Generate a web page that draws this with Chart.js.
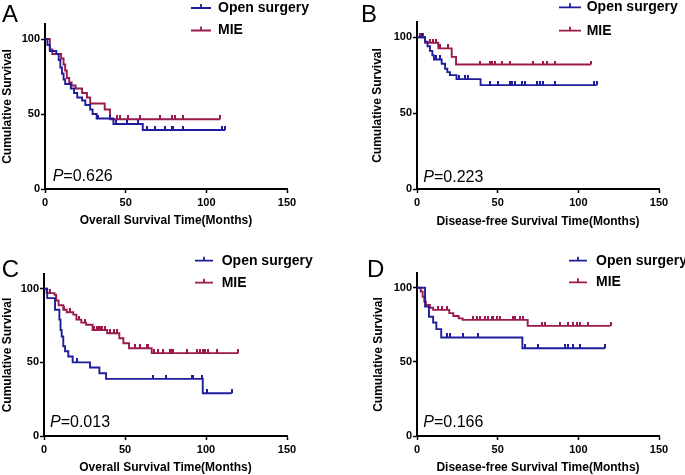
<!DOCTYPE html>
<html>
<head>
<meta charset="utf-8">
<script src="https://cdn.jsdelivr.net/npm/chart.js@4.4.1/dist/chart.umd.min.js"></script>
<style>
  html, body { margin: 0; padding: 0; background: #fff; }
  body { width: 685px; height: 475px; position: relative; overflow: hidden; }
  canvas { position: absolute; }
</style>
</head>
<body>
<canvas id="panelA" width="342" height="237" style="left:0;top:0"></canvas>
<canvas id="panelB" width="343" height="237" style="left:342px;top:0"></canvas>
<canvas id="panelC" width="342" height="237" style="left:0;top:238px"></canvas>
<canvas id="panelD" width="343" height="237" style="left:342px;top:238px"></canvas>
<script>
// ---- data (months, % surviving) ----
const groups = ["Open surgery", "MIE"];
const xTicks = [0, 50, 100, 150];
const yTicks = [0, 50, 100];

// A: overall survival
const aOpenT = [0, 1.5, 3, 7, 8.5, 9.5, 10.5, 11.5, 12.5, 16, 18, 20, 23, 25, 28, 29.5, 32, 42.4, 60.6];
const aOpenS = [100, 96, 92, 90, 86, 81, 77, 73, 70, 67, 64, 61, 59, 56, 53, 50, 47, 43.3, 39.3];
const aOpenC = [33, 40.3, 44, 50.6, 57.9, 63, 68, 74.4, 78.5, 79.6, 85.8, 109.5, 111.6];
const aMieT = [0, 3, 4.5, 10, 11.5, 12.5, 13.5, 15, 16.5, 19, 23, 26, 28, 37, 40.3];
const aMieS = [100, 93, 90, 87, 83, 79, 74, 71, 69, 67, 64, 61, 57, 53, 46.5];
const aMieC = [44.4, 46.5, 51.7, 58.9, 71.3, 78.5, 80.6, 85.8, 108.5];

// B: disease-free survival
const bOpenT = [0, 5, 6.5, 8, 9.5, 10.5, 15.3, 17.4, 18.8, 20.4, 24.5, 39.4];
const bOpenS = [100, 97, 94, 91, 88, 85.3, 82.5, 79.2, 77, 75, 72.4, 68.4];
const bOpenC = [3, 12, 14, 26, 29.5, 31.5, 45.3, 50.5, 57.6, 58.7, 60.7, 64.9, 66.9, 74.1, 76.2, 78.3, 85.5, 110, 111.4];
const bMieT = [0, 5, 13.2, 21.5, 24.2];
const bMieS = [100, 96.3, 92.6, 87, 82];
const bMieC = [2, 3.5, 8, 10, 12, 14, 19, 39, 45.3, 46.3, 48.4, 52.5, 57.6, 72.1, 78.3, 80.4, 85.5, 107.7];

// C: overall survival
const cOpenT = [0, 2, 6.8, 9.5, 10.2, 10.9, 11.9, 13, 15, 17.7, 28.4, 34.2, 38.3, 98];
const cOpenS = [100, 93.6, 85.7, 79, 72, 67.6, 60.9, 57.5, 54, 50, 46.5, 42.6, 38.8, 29];
const cOpenC = [20.6, 67.1, 75.1, 91.2, 92.2, 97.3, 100.4, 115.8];
const cMieT = [0, 1.6, 6.5, 7.5, 9, 11.9, 14, 18.1, 20, 23, 26, 30, 39, 46.5, 49, 52.5, 66.5];
const cMieS = [100, 97, 95.9, 92, 88.8, 85.7, 84, 82.4, 79, 77, 75.5, 72, 69.8, 66.4, 63, 59.6, 56.3];
const cMieC = [4, 12.5, 16, 21.5, 25, 31, 32.5, 34, 35, 36, 37.5, 41, 43, 45, 56, 59, 63.3, 64.3, 68, 70.6, 73.7, 77.8, 78.9, 79.9, 88.1, 94.3, 96.3, 98.4, 99.4, 101.5, 106.6, 120];

// D: disease-free survival
const dOpenT = [0, 5, 7.4, 10, 12, 15, 65.3];
const dOpenS = [100, 87.4, 80.5, 76.6, 72.1, 66.5, 59.2];
const dOpenC = [18.4, 20.5, 28.7, 38, 67, 75.2, 91.7, 93.8, 96.9, 101.1, 116.6];
const dMieT = [0, 2.3, 3.5, 4.5, 5.5, 8, 10, 20, 22.5, 25.8, 28.3, 68.6];
const dMieS = [100, 97.5, 94, 90.7, 88.5, 86.5, 85.1, 82.9, 81, 79.4, 78.4, 74.3];
const dMieC = [13.2, 15.3, 18.4, 34.9, 37, 39.1, 42.2, 44.2, 46.3, 47.3, 49.4, 51.4, 59.7, 60.8, 63.8, 65.9, 77.3, 79.3, 88.7, 93.8, 96.9, 99, 101.1, 106.2, 120];

const pValues = ["0.626", "0.223", "0.013", "0.166"];

// ---- styling ----
const BLUE = "#1e1e9a";
const RED = "#9a1a4e";
const FAMILY = "'Liberation Sans', Arial, sans-serif";

function tickMark(color) {
  const c = document.createElement("canvas");
  c.width = 2;
  c.height = 8;
  const g = c.getContext("2d");
  g.fillStyle = color;
  g.fillRect(0, 0, 2, 4);
  return c;
}

function stepPoints(times, surv, cens) {
  const pts = times.map((t, i) => ({ x: t, y: surv[i] }));
  const last = cens[cens.length - 1];
  if (last > times[times.length - 1]) pts.push({ x: last, y: surv[surv.length - 1] });
  return pts;
}

function censorPoints(times, surv, cens) {
  return cens.map((c) => {
    let k = 0;
    times.forEach((t, i) => {
      if (t <= c) k = i;
    });
    return { x: c, y: surv[k] };
  });
}

const panelText = {
  id: "panelText",
  afterDraw(chart) {
    const o = chart.options.plugins.panelText;
    const ctx = chart.ctx;
    ctx.save();
    ctx.fillStyle = "#000";
    ctx.textBaseline = "alphabetic";
    ctx.font = "24px " + FAMILY;
    ctx.fillText(o.letter, o.letterX, o.letterY);

    // legend
    [BLUE, RED].forEach((col, i) => {
      const y = o.legY[i];
      ctx.strokeStyle = col;
      ctx.lineWidth = 1.8;
      ctx.beginPath();
      ctx.moveTo(o.legX, y);
      ctx.lineTo(o.legX + o.legLen, y);
      const mid = o.legX + o.legLen / 2;
      ctx.moveTo(mid, y);
      ctx.lineTo(mid, y - 4);
      ctx.stroke();
      ctx.fillStyle = "#000";
      ctx.font = "bold 14px " + FAMILY;
      ctx.textBaseline = "middle";
      ctx.fillText(groups[i], o.legTextX, y);
    });

    // p value
    ctx.textBaseline = "alphabetic";
    ctx.font = "italic 16px " + FAMILY;
    ctx.fillText("P", o.pX, o.pY);
    const w = ctx.measureText("P").width;
    ctx.font = "16px " + FAMILY;
    ctx.fillText("=" + o.p, o.pX + w, o.pY);
    ctx.restore();
  },
};

function makePanel(id, cfg) {
  const tickFont = { family: FAMILY, size: 11, weight: "bold" };
  const titleFont = { family: FAMILY, size: 12, weight: "bold" };
  return new Chart(document.getElementById(id), {
    type: "line",
    data: {
      datasets: [
        {
          data: stepPoints(cfg.open[0], cfg.open[1], cfg.open[2]),
          borderColor: BLUE,
          borderWidth: 1.9,
          stepped: "before",
          pointRadius: 0,
          fill: false,
        },
        {
          data: censorPoints(cfg.open[0], cfg.open[1], cfg.open[2]),
          showLine: false,
          pointStyle: tickMark(BLUE),
          pointRadius: 3,
        },
        {
          data: stepPoints(cfg.mie[0], cfg.mie[1], cfg.mie[2]),
          borderColor: RED,
          borderWidth: 1.9,
          stepped: "before",
          pointRadius: 0,
          fill: false,
        },
        {
          data: censorPoints(cfg.mie[0], cfg.mie[1], cfg.mie[2]),
          showLine: false,
          pointStyle: tickMark(RED),
          pointRadius: 3,
        },
      ],
    },
    options: {
      responsive: false,
      animation: false,
      events: [],
      layout: { padding: { left: cfg.padL, right: cfg.padR, top: cfg.padT, bottom: 0 } },
      plugins: {
        legend: { display: false },
        tooltip: { enabled: false },
        panelText: cfg.text,
      },
      scales: {
        x: {
          type: "linear",
          min: 0,
          max: 150,
          afterFit: (s) => {
            s.height = cfg.xH;
          },
          afterBuildTicks: (s) => {
            s.ticks = xTicks.map((v) => ({ value: v }));
          },
          ticks: { padding: 3, color: "#000", font: tickFont, maxRotation: 0 },
          grid: { drawOnChartArea: false, tickLength: 4, tickWidth: 1.5, tickColor: "#000" },
          border: { color: "#000", width: 2 },
          title: {
            display: true,
            text: cfg.xTitle,
            color: "#000",
            font: titleFont,
            padding: { top: 0, bottom: cfg.xTitlePad },
          },
        },
        y: {
          type: "linear",
          min: 0,
          max: 110,
          afterFit: (s) => {
            s.width = cfg.yW;
          },
          afterBuildTicks: (s) => {
            s.ticks = yTicks.map((v) => ({ value: v }));
          },
          ticks: { padding: 1, color: "#000", font: tickFont },
          grid: { drawOnChartArea: false, tickLength: 4, tickWidth: 1.5, tickColor: "#000" },
          border: { color: "#000", width: 2 },
          title: {
            display: true,
            text: "Cumulative Survival",
            color: "#000",
            font: titleFont,
            padding: { top: cfg.yTitlePad, bottom: 0 },
          },
        },
      },
    },
    plugins: [panelText],
  });
}

makePanel("panelA", {
  open: [aOpenT, aOpenS, aOpenC],
  mie: [aMieT, aMieS, aMieC],
  padL: 0, padR: 55, padT: 24, yW: 45, xH: 48,
  xTitle: "Overall Survival Time(Months)", xTitlePad: 9, yTitlePad: 0.3,
  text: { letter: "A", letterX: 2, letterY: 22, legX: 191, legLen: 20, legTextX: 218, legY: [8, 30.5], pX: 52.7, pY: 180.7, p: pValues[0] },
});

makePanel("panelB", {
  open: [bOpenT, bOpenS, bOpenC],
  mie: [bMieT, bMieS, bMieC],
  padL: 28, padR: 26, padT: 22, yW: 47, xH: 48,
  xTitle: "Disease-free Survival Time(Months)", xTitlePad: 8.5, yTitlePad: 0.8,
  text: { letter: "B", letterX: 19, letterY: 21.7, legX: 217, legLen: 22, legTextX: 244.7, legY: [7.3, 30.7], pX: 81.3, pY: 181.7, p: pValues[1] },
});

makePanel("panelC", {
  open: [cOpenT, cOpenS, cOpenC],
  mie: [cMieT, cMieS, cMieC],
  padL: 0, padR: 55, padT: 36, yW: 44, xH: 39,
  xTitle: "Overall Survival Time(Months)", xTitlePad: 0, yTitlePad: 0,
  text: { letter: "C", letterX: 1.7, letterY: 38.7, legX: 195, legLen: 18, legTextX: 221.7, legY: [22.7, 44.7], pX: 50, pY: 188.7, p: pValues[2] },
});

makePanel("panelD", {
  open: [dOpenT, dOpenS, dOpenC],
  mie: [dMieT, dMieS, dMieC],
  padL: 28, padR: 26, padT: 35, yW: 47, xH: 39,
  xTitle: "Disease-free Survival Time(Months)", xTitlePad: 0, yTitlePad: 1.1,
  text: { letter: "D", letterX: 25, letterY: 38.7, legX: 227, legLen: 18, legTextX: 254, legY: [22.7, 44.3], pX: 81.3, pY: 189.3, p: pValues[3] },
});
</script>
</body>
</html>
